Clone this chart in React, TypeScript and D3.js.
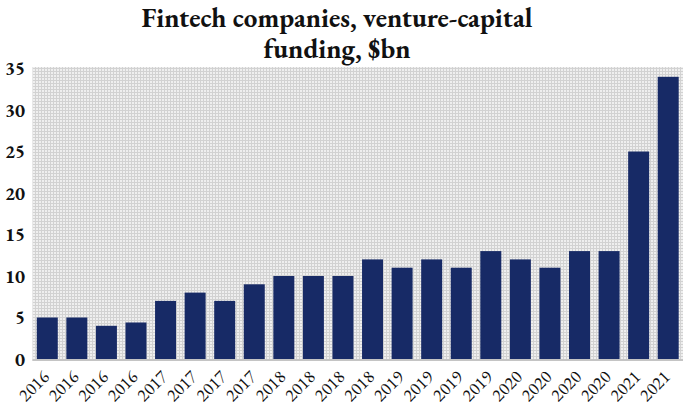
import React from "react";
import * as d3 from "d3";

const categories = ["2016","2016","2016","2016","2017","2017","2017","2017","2018","2018","2018","2018","2019","2019","2019","2019","2020","2020","2020","2020","2021","2021"];
const values = [5,5,4,4.4,7,8,7,9,10,10,10,12,11,12,11,13,12,11,13,13,25,34];
const yTicks = [0,5,10,15,20,25,30,35];
const titleLines = ["Fintech companies, venture-capital", "funding, $bn"];

export default function App() {
  const W = 685, H = 406;
  const left = 32.5, right = 683, top = 67, bottom = 359;
  const x = d3.scaleBand<number>().domain(d3.range(values.length)).range([left, right]).paddingInner(0.29).paddingOuter(0.145);
  const y = d3.scaleLinear().domain([0, 35]).range([bottom, top + 1.5]);
  const font = "'EB Garamond', Garamond, 'Liberation Serif', 'DejaVu Serif', serif";
  return (
    <svg width={W} height={H} style={{ position: "absolute", left: 0, top: 0, background: "#fff", fontVariantNumeric: "lining-nums" }}>
      <defs>
        <pattern id="dots" width="3" height="3" patternUnits="userSpaceOnUse">
          <rect width="3" height="3" fill="#d2d2d2" />
          <rect x="0" y="0" width="2" height="2" fill="#efefef" />
        </pattern>
      </defs>
      {titleLines.map((t, i) => (
        <text key={i} x={337} y={27 + i * 31} textAnchor="middle" fontFamily={font} fontWeight="bold" fontSize={27} fill="#111">{t}</text>
      ))}
      <rect x={left} y={top} width={right - left} height={bottom - top + 2} fill="url(#dots)" />
      <line x1={left} x2={right} y1={bottom + 1} y2={bottom + 1} stroke="#c4c4c4" strokeWidth={2} />
      {values.map((v, i) => (
        <rect key={i} x={x(i)} y={y(v)} width={x.bandwidth()} height={bottom - y(v)} fill="#172a66" />
      ))}
      {yTicks.map(t => (
        <text key={t} x={25} y={y(t)} dy="0.35em" textAnchor="end" fontFamily={font} fontWeight="bold" fontSize={19} fill="#111">{t}</text>
      ))}
      {categories.map((c, i) => {
        const cx = (x(i) as number) + x.bandwidth() / 2 + 3;
        const cy = 378;
        return (
          <text key={i} x={cx} y={cy} transform={`rotate(-45 ${cx} ${cy})`} textAnchor="end" fontFamily={font} fontSize={18} fill="#111" style={{ fontVariantNumeric: "lining-nums" }}>{c}</text>
        );
      })}
    </svg>
  );
}
